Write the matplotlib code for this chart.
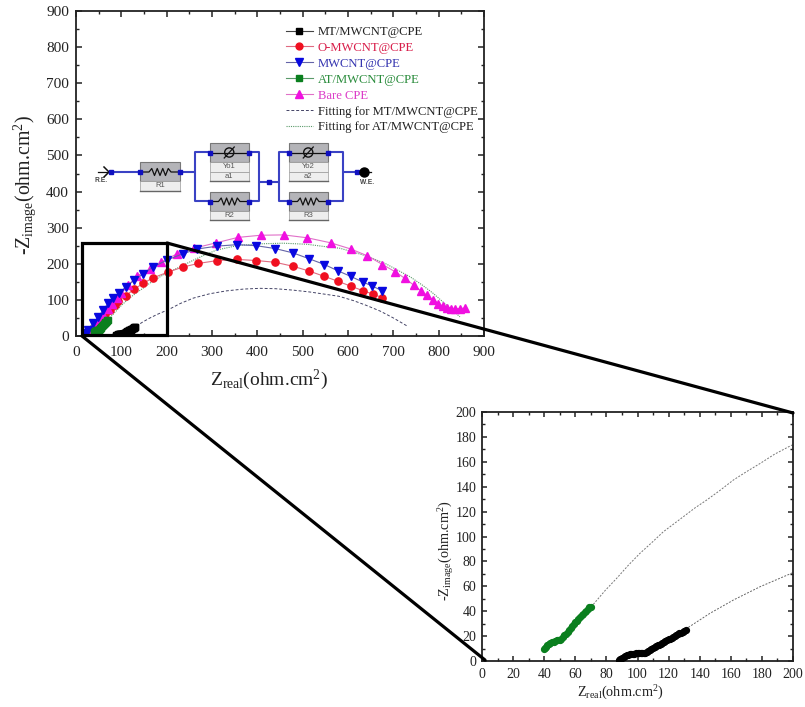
import matplotlib
matplotlib.use("Agg")
import matplotlib.pyplot as plt
from matplotlib.patches import Rectangle
from matplotlib.ticker import MultipleLocator
import numpy as np

plt.rcParams['font.family'] = ['Liberation Serif', 'DejaVu Serif']
plt.rcParams['mathtext.default'] = 'regular'

# ---------- data ----------
mt_x = [88, 88.5, 89, 90, 91, 92, 93, 94, 95, 96, 97, 98, 99, 100, 101, 102, 103, 104, 105, 106, 107, 108,
        109, 110, 111, 112, 113, 114, 115, 116, 117, 118, 119, 120, 121, 122, 123, 124, 125, 126, 127, 128, 129, 130, 131]
mt_y = [0.5, 1, 1.8, 2.8, 3.4, 4, 4.6, 5, 5.4, 5.6, 5.8, 6, 6.2, 6.4, 6.5, 6.5, 6.5, 6.5, 6.7, 7.2, 8, 9,
        9.6, 10.4, 11, 11.8, 12.5, 13.2, 14, 14.8, 15.4, 16, 16.8, 17.5, 18, 18.8, 19.5, 20.2, 20.8, 21.5, 22.2, 22.8, 23.6, 24.3, 25]

at_x = [40, 40.5, 41, 42, 43, 44, 45, 46, 47, 48, 49, 50, 51, 52, 53, 54, 55, 56, 57, 58, 59, 60, 61, 62, 63, 64, 65, 66, 67, 68, 69, 70]
at_y = [9.5, 10.5, 11.5, 13, 14, 14.8, 15.2, 15.6, 16, 16.5, 16.8, 16.8, 17.5, 19, 20.5, 22, 23.5, 25, 26.5, 28, 29.5, 31, 32.5, 34, 35.5, 37, 38, 39, 40, 42, 43, 43.2]

om_x = [28, 35, 45, 55, 65, 75, 85, 93, 110, 128, 148, 170, 203, 236, 270, 312, 356, 398, 440, 479, 514, 548, 577, 606, 632, 655, 676]
om_y = [8, 20, 33, 46, 60, 73, 87, 97, 112, 129, 146, 161, 177, 191, 201, 209, 212, 209, 204, 193, 180, 165, 152, 138, 126, 116, 106]

mw_x = [20, 27, 38, 49, 60, 71, 82, 95, 110, 128, 148, 170, 200, 236, 268, 312, 356, 398, 440, 479, 514, 548, 577, 606, 632, 654, 676]
mw_y = [8, 17, 36, 53, 72, 91, 105, 119, 136, 154, 172, 191, 210, 228, 241, 249, 253, 250, 242, 230, 214, 198, 181, 165, 150, 138, 125]

bare_x = [30, 40, 50, 60, 70, 80, 90, 100, 115, 134, 164, 188, 222, 260, 309, 357, 407, 458, 510, 562, 606, 643, 676, 704, 725, 745, 761, 774, 787, 799, 809, 818, 827, 837, 846, 857]
bare_y = [10, 26, 42, 58, 74, 90, 105, 118, 140, 166, 186, 205, 227, 243, 258, 273, 279, 280, 272, 258, 241, 222, 198, 178, 160, 141, 125, 113, 101, 90, 83, 77, 76, 76, 76, 77]

fit_mt_x = [132.7, 146.6, 161.7, 178.9, 198, 207, 230, 259, 295, 332, 370, 406, 440, 479, 515, 553, 580, 612, 640, 671, 700, 730]
fit_mt_y = [27, 38.3, 49, 59.7, 69.9, 75, 90, 105, 117, 125, 130, 132, 131, 127, 122, 115, 110, 98, 85, 69, 50, 28]
fit_at_x = [71.6, 79.1, 86.6, 94.1, 101.6, 109.1, 116.6, 129.5, 137, 144.5, 153, 161.7, 170, 178.9, 188, 198, 230, 259, 285, 310, 354,
            399, 457, 509, 553, 582, 608, 634, 660, 685, 710, 737, 765, 788, 817, 847]
fit_at_y = [45.5, 56.5, 66.4, 76.9, 86.5, 95, 103.8, 115.9, 123, 129.3, 137, 145.4, 152, 158.7, 166, 172.6, 192, 210, 225, 238, 250,
            255, 257, 254, 247, 243, 234, 224, 212, 199, 182, 164, 140, 118, 86, 53]

legend_labels = ["MT/MWCNT@CPE", "O-MWCNT@CPE", "MWCNT@CPE", "AT/MWCNT@CPE", "Bare CPE",
                 "Fitting for MT/MWCNT@CPE", "Fitting for AT/MWCNT@CPE"]
legend_colors = ["#222222", "#d81e4a", "#3535b0", "#2a8c3c", "#dc3cc8", "#222222", "#222222"]

W, H = 805, 707
fig = plt.figure(figsize=(W / 100, H / 100), dpi=100, facecolor="white")


def px_axes(l, r, t, b):
    return fig.add_axes([l / W, 1 - b / H, (r - l) / W, (b - t) / H])


def style(ax, major, minor, size, lim, tick_major, tick_minor, xpad, ypad):
    ax.set_xlim(0, lim)
    ax.set_ylim(0, lim)
    for a in (ax.xaxis, ax.yaxis):
        a.set_major_locator(MultipleLocator(major))
        a.set_minor_locator(MultipleLocator(minor))
    ax.tick_params(which='major', direction='in', length=tick_major, width=1.1, top=True, right=True,
                   labelsize=size, labelcolor="#222222", color="#222222")
    ax.tick_params(which='minor', direction='in', length=tick_minor, width=1.0, top=True, right=True, color="#222222")
    ax.tick_params(axis='x', which='major', pad=xpad)
    ax.tick_params(axis='y', which='major', pad=ypad)
    for s in ax.spines.values():
        s.set_linewidth(1.3)
        s.set_color("#222222")


# ---------- main axes ----------
ax = px_axes(76, 484, 11, 336)
style(ax, 100, 50, 11, 900, 4, 2.2, 7, 5)
lw = 0.8
ax.plot(mt_x, mt_y, '-s', color='#444444', mfc='black', mec='black', ms=4.6, lw=lw, label=legend_labels[0], zorder=6)
ax.plot(om_x, om_y, '-o', color='#e06a80', mfc='#f01020', mec='#f01020', ms=5.2, lw=lw, label=legend_labels[1], zorder=2.5)
ax.plot(mw_x, mw_y, '-v', color='#6464a8', mfc='#0808e0', mec='#0808e0', ms=5.8, lw=lw, label=legend_labels[2], zorder=4)
ax.plot(at_x, at_y, '-s', color='#5a9a6a', mfc='#0a7f1e', mec='#0a7f1e', ms=4.6, lw=lw, label=legend_labels[3], zorder=5)
ax.plot(bare_x, bare_y, '-^', color='#e070c8', mfc='#f010e0', mec='#f010e0', ms=5.8, lw=lw, label=legend_labels[4], zorder=3)
ax.plot(fit_mt_x, fit_mt_y, ls=(0, (3, 2)), color='#444466', lw=0.7, label=legend_labels[5], zorder=2)
ax.plot(fit_at_x, fit_at_y, ls=(0, (1, 1)), color='#5a9a6a', lw=0.8, label=legend_labels[6], zorder=2)
ax.set_xlabel("Z$_{real}$(ohm.cm$^2$)", fontsize=14, color="#222222")
ax.set_ylabel("-Z$_{image}$(ohm.cm$^2$)", fontsize=14.3, color="#222222")
ax.xaxis.set_label_coords((269 - 76) / 408, -(368 - 336) / 325)
ax.yaxis.set_label_coords(-(76 - 38) / 408, (336 - 185) / 325)
leg = ax.legend(loc='upper left', bbox_to_anchor=(0.515, 0.954), frameon=False, fontsize=9.1, labelspacing=0.31,
                handlelength=2.1, handletextpad=0.4, borderpad=0, borderaxespad=0, markerscale=0.95, numpoints=1)
for t, c in zip(leg.get_texts(), legend_colors):
    t.set_color(c)

# ---------- inset axes ----------
ins = px_axes(482, 793, 412, 661)
style(ins, 20, 10, 10, 200, 3.5, 2, 5, 4)
ins.plot(mt_x, mt_y, '-o', color='black', ms=4.2, lw=lw, zorder=5)
ins.plot(at_x, at_y, '-o', color='#0a7f1e', ms=4.2, lw=lw, zorder=5)
ins.plot(fit_mt_x, fit_mt_y, ls=(0, (2, 1.5)), color='#666666', lw=0.7)
ins.plot(fit_at_x, fit_at_y, ls=(0, (2, 1.5)), color='#777777', lw=0.7)
ins.set_xlabel("Z$_{real}$(ohm.cm$^2$)", fontsize=10.3, color="#222222")
ins.set_ylabel("-Z$_{image}$(ohm.cm$^2$)", fontsize=10.3, color="#222222")
ins.xaxis.set_label_coords((620 - 482) / 311, -(684 - 661) / 249)
ins.yaxis.set_label_coords(-(482 - 456) / 311, (661 - 551) / 249)

# ---------- overlay in pixel space: zoom box and circuit schematic ----------
ov = fig.add_axes([0, 0, 1, 1], facecolor='none', zorder=10)
ov.set_xlim(0, W)
ov.set_ylim(H, 0)
ov.axis('off')

ov.add_patch(Rectangle((82, 243), 85, 92, fill=False, ec='black', lw=2.3))
ov.plot([167, 793], [243, 413], color='black', lw=2.3, solid_capstyle='round')
ov.plot([82, 485], [336, 660], color='black', lw=2.3, solid_capstyle='round')

BLUE = '#3a42c4'


def wire(xs, ys):
    ov.plot(xs, ys, color=BLUE, lw=1.5, solid_capstyle='butt', zorder=2)


def node(x, y):
    ov.plot([x], [y], 's', color='#1010c0', ms=2.6, zorder=6)


def zigzag(x0, x1, y):
    n = np.linspace(x0 + 9, x1 - 9, 9)
    yy = y + np.array([0, -3.5, 3.5, -3.5, 3.5, -3.5, 3.5, -3.5, 0])
    ov.plot([x0] + list(n) + [x1], [y] + list(yy) + [y], color='#111111', lw=0.9, zorder=5)


def box(x, y, w, labels, wy):
    gray = 19
    lab = 9.5
    ov.add_patch(Rectangle((x, y), w, gray, fc='#b4b4b8', ec='#777777', lw=0.8, zorder=3))
    for i, s in enumerate(labels):
        yy = y + gray + i * lab
        ov.add_patch(Rectangle((x, yy), w, lab, fc='#eeeeee', ec='#999999', lw=0.5, zorder=3))
        ov.text(x + w / 2, yy + lab / 2, s, fontsize=5.5, ha='center', va='center', color='#555555',
                family='Liberation Sans', zorder=4)
    ov.plot([x, x + w], [y + gray + len(labels) * lab] * 2, color='#666666', lw=1.0, zorder=4)
    node(x, wy)
    node(x + w, wy)


def resistor(x, y, w, label):
    wy = y + 10
    box(x, y, w, [label], wy)
    zigzag(x, x + w, wy)


def cpe(x, y, w, labels):
    wy = y + 9.5
    box(x, y, w, labels, wy)
    ov.plot([x, x + w], [wy, wy], color='#111111', lw=0.9, zorder=5)
    ov.add_patch(plt.Circle((x + w / 2, wy), 4.6, fc='none', ec='#111111', lw=1.0, zorder=5))
    ov.plot([x + w / 2 - 5, x + w / 2 + 5], [wy + 5.5, wy - 5.5], color='#111111', lw=0.9, zorder=5)


wire([111, 195], [172, 172])
wire([209, 195, 195, 209], [152, 152, 201, 201])
wire([249, 259, 259, 249], [152, 152, 201, 201])
wire([259, 279], [182, 182])
wire([289, 279, 279, 289], [152, 152, 201, 201])
wire([328, 343, 343, 328], [152, 152, 201, 201])
wire([343, 358], [172, 172])
resistor(140, 162, 40, "R1")
cpe(209.5, 143, 39.5, ["Yo1", "a1"])
resistor(209.5, 191.5, 39.5, "R2")
cpe(288.5, 143, 39.5, ["Yo2", "a2"])
resistor(288.5, 191.5, 39.5, "R3")
node(111, 172)
node(269, 182)
node(357, 172)
ov.plot([98, 109], [172, 172], color='#111111', lw=0.9)
ov.plot([104, 109, 104], [167, 172, 177], color='#111111', lw=1.1)
ov.plot([363.5], [172], 'o', color='black', ms=6.5, zorder=6)
ov.plot([363, 371], [172, 172], color='#111111', lw=0.9)
ov.text(101, 181, "R.E.", fontsize=4.8, ha='center', va='center', color='#444444', family='Liberation Sans', weight='bold')
ov.text(367, 182, "W.E.", fontsize=4.8, ha='center', va='center', color='#444444', family='Liberation Sans', weight='bold')

fig.savefig("out.png", dpi=100)
